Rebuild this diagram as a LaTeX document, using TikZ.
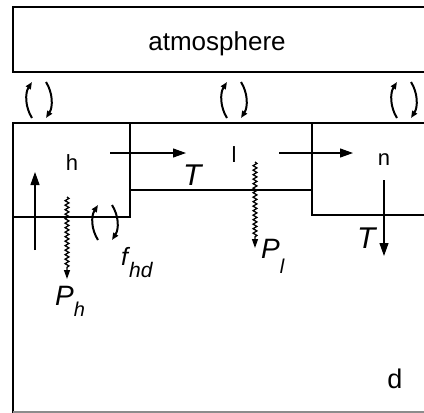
\documentclass[tikz,border=0pt]{standalone}
\usepackage{fontspec}
\setmainfont{Liberation Sans}
\usetikzlibrary{arrows.meta,decorations.pathmorphing}
\begin{document}
\begin{tikzpicture}[x=1pt,y=-1pt,
  bx/.style={line width=1.3pt,line cap=rect},
  flow/.style={line width=1.2pt,-{Triangle[length=13pt,width=9pt]}},
  wavy/.style={line width=1.3pt,decorate,
    decoration={snake,amplitude=1.9pt,segment length=4.5pt,post length=10pt},
    -{Triangle[length=9pt,width=6pt]}},
  exch/.style={line width=2pt,-{Triangle[length=7pt,width=5.5pt]}},
  lab/.style={anchor=base,inner sep=0pt,font=\fontsize{22}{22}\selectfont},
  ilab/.style={anchor=base west,inner sep=0pt,font=\fontsize{28}{28}\selectfont\itshape}]
\useasboundingbox (0,0) rectangle (424,413);
% atmosphere box (open at right)
\draw[bx] (424,7) -- (13,7) -- (13,72) -- (424,72);
\node[anchor=base,inner sep=0pt,font=\fontsize{26}{26}\selectfont] (atm) at (217,50) {atmosphere};
% exchange arrows
\foreach \c in {39,234,404}{
  \draw[exch] ({\c-7},118) .. controls ({\c-14},107) and ({\c-14},93) .. ({\c-7},82);
  \draw[exch] ({\c+7},82) .. controls ({\c+14},93) and ({\c+14},107) .. ({\c+7},118);
}
% main box
\draw[bx] (424,123) -- (13,123) -- (13,412);
\draw[line width=1.2pt,black!45] (13,412) -- (424,412);
\draw[bx] (130,123) -- (130,217) -- (13,217);
\draw[bx] (130,190) -- (312,190);
\draw[bx] (312,123) -- (312,215) -- (424,215);
% labels
\node[lab] (h) at (72,170) {h};
\node[lab] (l) at (234,162) {l};
\node[lab] (n) at (384,165) {n};
\node[lab,font=\fontsize{27}{27}\selectfont] (d) at (395,388) {d};
\node[ilab,font=\fontsize{30}{30}\selectfont\itshape] (T1) at (183,185) {T};
\node[ilab,font=\fontsize{30}{30}\selectfont\itshape] (T2) at (357,248) {T};
\node[ilab] (Ph) at (55,305) {P\raisebox{-11pt}{\fontsize{20}{20}\selectfont h}};
\node[ilab] (Pl) at (261,258) {P\raisebox{-15pt}{\fontsize{20}{20}\selectfont l}};
\node[ilab,font=\fontsize{25}{25}\selectfont\itshape] (fhd) at (121,265) {f\kern1pt\raisebox{-12pt}{\fontsize{21}{21}\selectfont hd}};
% coordinates
\coordinate (hT0) at (110,153); \coordinate (hT1) at (186,153);
\coordinate (ln0) at (279,153); \coordinate (ln1) at (353,153);
\coordinate (nT0) at (384,180); \coordinate (nT1) at (384,256);
\coordinate (up0) at (35,250); \coordinate (up1) at (35,172);
\coordinate (ph0) at (67,197); \coordinate (ph1) at (67,279);
\coordinate (pl0) at (255,162); \coordinate (pl1) at (255,248);
% flows
\draw[flow] (hT0) -- (hT1);
\draw[flow] (ln0) -- (ln1);
\draw[flow] (nT0) -- (nT1);
\draw[flow] (up0) -- (up1);
\draw[wavy] (ph0) -- (ph1);
\draw[wavy] (pl0) -- (pl1);
% f_hd exchange
\draw[exch] (98,240) .. controls (91,229) and (91,216) .. (98,205);
\draw[exch] (112,205) .. controls (119,216) and (119,229) .. (112,240);
\end{tikzpicture}
\end{document}
